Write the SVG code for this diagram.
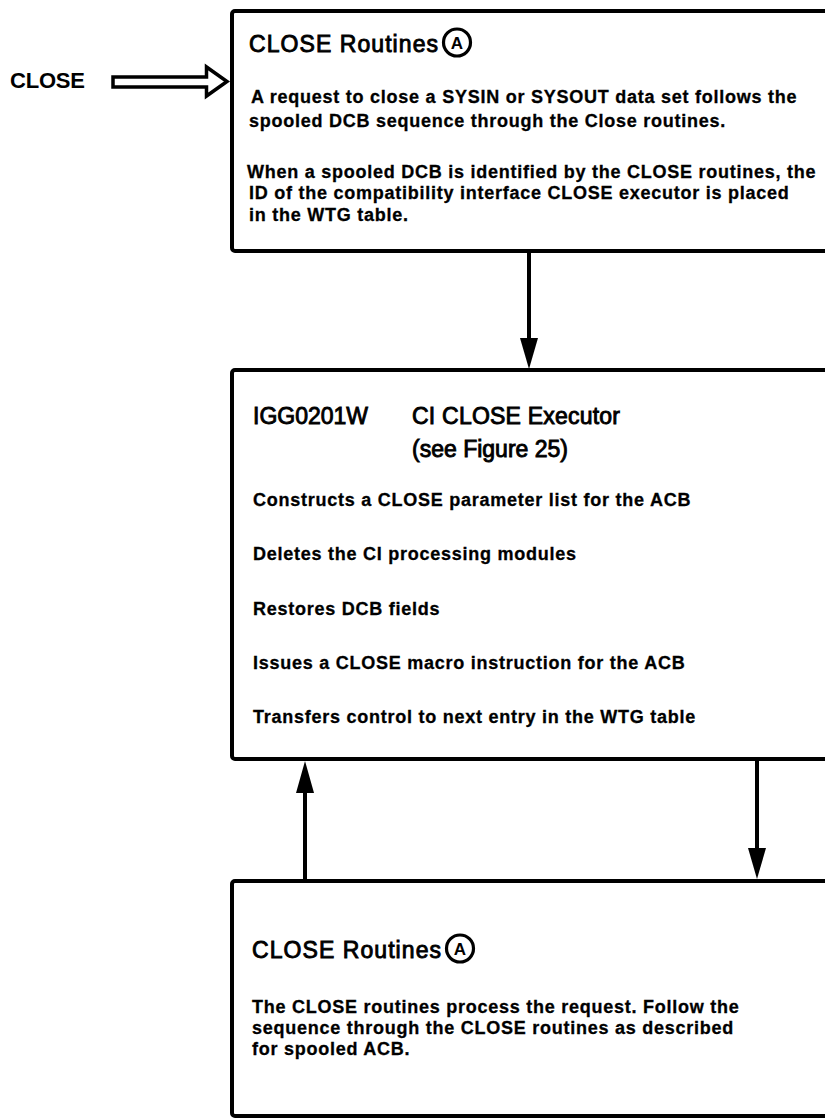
<svg xmlns="http://www.w3.org/2000/svg" width="825" height="1119" viewBox="0 0 825 1119">
<style>
.box{fill:#fff;stroke:#000;stroke-width:4}
.title{font-family:"Liberation Sans",Arial,sans-serif;font-size:23px;fill:#000;stroke:#000;stroke-width:0.9}
.body{font-family:"Liberation Sans",Arial,sans-serif;font-size:18px;font-weight:bold;letter-spacing:0.75px;fill:#000;stroke:#000;stroke-width:0.3}
.lbl{font-family:"Liberation Sans",Arial,sans-serif;font-size:22px;font-weight:bold;fill:#000}
.ca{fill:none;stroke:#000;stroke-width:3.2}
.cat{font-family:"Liberation Sans",Arial,sans-serif;font-size:17px;font-weight:bold;fill:#000;text-anchor:middle}
.conn{stroke:#000;stroke-width:4;fill:none}
.head{fill:#000;stroke:none}
</style>
<rect width="825" height="1119" fill="#fff"/>
<g id="close-label">
<text class="lbl" x="10" y="88" textLength="75">CLOSE</text>
</g>
<g id="box1">
<rect class="box" x="232" y="11" width="620" height="240" rx="3"/>
<text class="title" x="249" y="52" textLength="189">CLOSE Routines</text>
<circle class="ca" cx="457" cy="42.5" r="13.5"/>
<text class="cat" x="457" y="49">A</text>
<text class="body" x="251" y="103">A request to close a SYSIN or SYSOUT data set follows the</text>
<text class="body" x="249" y="127">spooled DCB sequence through the Close routines.</text>
<text class="body" x="247" y="178">When a spooled DCB is identified by the CLOSE routines, the</text>
<text class="body" x="249" y="199">ID of the compatibility interface CLOSE executor is placed</text>
<text class="body" x="249" y="221">in the WTG table.</text>
</g>
<g id="box2">
<rect class="box" x="232" y="370" width="620" height="389" rx="3"/>
<text class="title" x="253" y="424">IGG0201W</text>
<text class="title" x="412" y="424" textLength="208">CI CLOSE Executor</text>
<text class="title" x="412" y="457" textLength="156">(see Figure 25)</text>
<text class="body" x="253" y="506">Constructs a CLOSE parameter list for the ACB</text>
<text class="body" x="253" y="560">Deletes the CI processing modules</text>
<text class="body" x="253" y="615">Restores DCB fields</text>
<text class="body" x="253" y="669">Issues a CLOSE macro instruction for the ACB</text>
<text class="body" x="253" y="723">Transfers control to next entry in the WTG table</text>
</g>
<g id="box3">
<rect class="box" x="232" y="881" width="620" height="235" rx="3"/>
<text class="title" x="252" y="958" textLength="189">CLOSE Routines</text>
<circle class="ca" cx="460" cy="948.5" r="13.5"/>
<text class="cat" x="460" y="955">A</text>
<text class="body" x="252" y="1013">The CLOSE routines process the request. Follow the</text>
<text class="body" x="252" y="1034">sequence through the CLOSE routines as described</text>
<text class="body" x="252" y="1055">for spooled ACB.</text>
</g>
<g id="connectors">
<polygon points="113,77 206.5,77 206.5,67 227,81.5 206.5,96 206.5,87 113,87" fill="#fff" stroke="#000" stroke-width="3.5" stroke-linejoin="miter"/>
<line class="conn" x1="529" y1="251" x2="529" y2="340"/>
<polygon class="head" points="520,338 538,338 529,369"/>
<line class="conn" x1="305" y1="881" x2="305" y2="790"/>
<polygon class="head" points="296,793 314,793 305,761"/>
<line class="conn" x1="757" y1="759" x2="757" y2="850"/>
<polygon class="head" points="748,848 766,848 757,879"/>
</g>
</svg>
